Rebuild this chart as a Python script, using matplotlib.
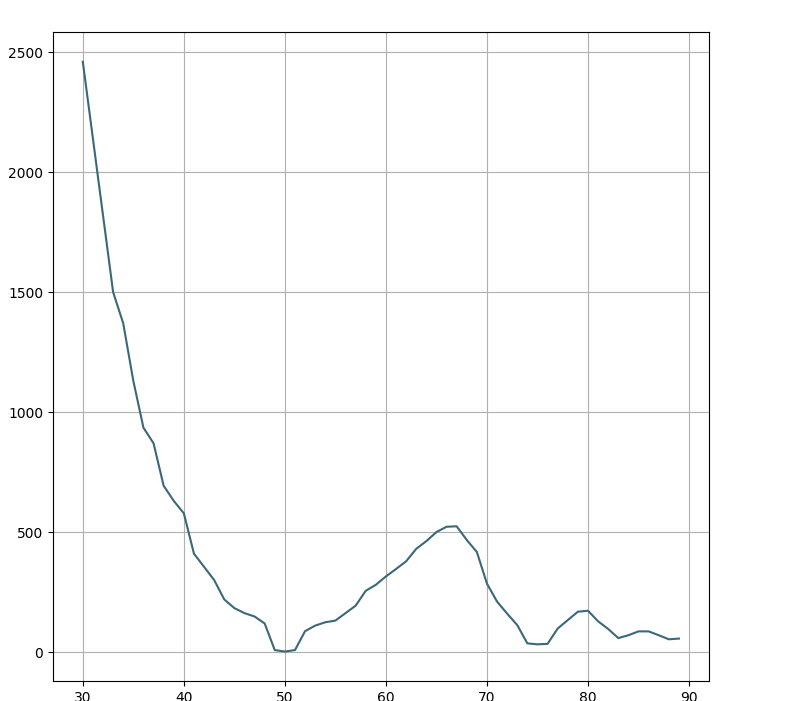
import numpy as np
import matplotlib
matplotlib.use('Agg')
import matplotlib.pyplot as plt

# x values: 30..89
ages = list(range(30, 90))
counts = [2460, 2140, 1820, 1500, 1370, 1130, 935, 870, 693, 630,
          578, 410, 355, 300, 219, 183, 162, 148, 119, 8,
          2, 8, 87, 110, 124, 131, 162, 193, 255, 280,
          315, 346, 378, 430, 462, 500, 522, 524, 467, 417,
          285, 210, 160, 112, 36, 32, 34, 98, 133, 168,
          172, 128, 96, 58, 70, 86, 86, 70, 53, 56]

fig = plt.figure(figsize=(7.91, 7.01), dpi=100)
ax = fig.add_axes([0.067, 0.0285, 0.829, 0.9255])
ax.plot(ages, counts, color='#3b6878', linewidth=1.5)
ax.set_xticks([30, 40, 50, 60, 70, 80, 90])
ax.set_yticks([0, 500, 1000, 1500, 2000, 2500])
ax.grid(True)

fig.savefig('out.png', dpi=100)
